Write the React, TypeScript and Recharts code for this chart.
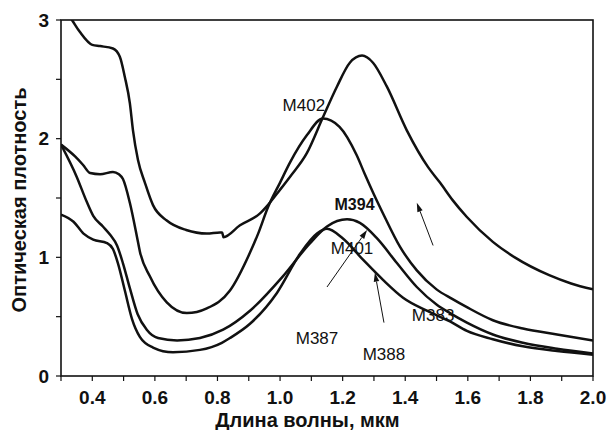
import { Line, LineChart, ReferenceDot, ReferenceLine, XAxis, YAxis } from "recharts";

// curve with the highest peak (~2.7 at 1.26 um)
const aWave = [0.3, 0.335, 0.36, 0.4, 0.425, 0.466, 0.488, 0.504, 0.52, 0.53, 0.546, 0.568, 0.594, 0.638, 0.7, 0.766, 0.808, 0.815, 0.819, 0.872, 0.936, 0.961, 1.0, 1.032, 1.086, 1.137, 1.182, 1.223, 1.262, 1.297, 1.341, 1.405, 1.473, 1.511, 1.552, 1.597, 1.68, 1.75, 1.86, 1.93, 2.0];
const aOD = [3.13, 3.0, 2.9, 2.79, 2.78, 2.76, 2.69, 2.52, 2.3, 2.07, 1.82, 1.63, 1.44, 1.31, 1.23, 1.2, 1.21, 1.21, 1.17, 1.27, 1.37, 1.44, 1.57, 1.68, 1.88, 2.18, 2.44, 2.64, 2.7, 2.64, 2.44, 2.07, 1.76, 1.63, 1.48, 1.34, 1.13, 1.0, 0.85, 0.78, 0.73];

// M402 (peak ~2.17 at 1.13 um)
const bWave = [0.3, 0.345, 0.37, 0.393, 0.425, 0.466, 0.485, 0.498, 0.52, 0.543, 0.552, 0.584, 0.638, 0.702, 0.766, 0.84, 0.904, 0.93, 0.961, 1.0, 1.032, 1.086, 1.137, 1.19, 1.245, 1.271, 1.3, 1.329, 1.383, 1.437, 1.5, 1.55, 1.597, 1.68, 1.776, 1.885, 2.0];
const bOD = [1.95, 1.85, 1.78, 1.71, 1.7, 1.72, 1.7, 1.66, 1.46, 1.17, 1.05, 0.84, 0.62, 0.53, 0.57, 0.72, 1.04, 1.2, 1.42, 1.63, 1.8, 2.03, 2.17, 2.1, 1.86, 1.7, 1.53, 1.37, 1.09, 0.89, 0.73, 0.65, 0.58, 0.47, 0.4, 0.35, 0.3];

// M394 (peak ~1.32 at 1.21 um)
const cWave = [0.3, 0.35, 0.382, 0.403, 0.434, 0.457, 0.479, 0.498, 0.52, 0.545, 0.574, 0.61, 0.671, 0.744, 0.818, 0.904, 1.009, 1.096, 1.15, 1.214, 1.255, 1.31, 1.374, 1.437, 1.501, 1.543, 1.597, 1.68, 1.776, 1.885, 2.0];
const cOD = [1.95, 1.68, 1.47, 1.35, 1.26, 1.19, 1.1, 0.95, 0.74, 0.52, 0.39, 0.32, 0.3, 0.32, 0.39, 0.55, 0.84, 1.12, 1.26, 1.32, 1.29, 1.16, 0.95, 0.75, 0.6, 0.53, 0.45, 0.35, 0.28, 0.23, 0.19];

// M387 (peak ~1.25 at 1.15 um)
const dWave = [0.3, 0.34, 0.372, 0.403, 0.447, 0.466, 0.482, 0.504, 0.527, 0.552, 0.594, 0.658, 0.744, 0.814, 0.84, 0.904, 0.99, 1.064, 1.118, 1.15, 1.2, 1.265, 1.329, 1.393, 1.469, 1.543, 1.597, 1.68, 1.776, 1.885, 2.0];
const dOD = [1.36, 1.3, 1.2, 1.15, 1.12, 1.07, 0.95, 0.72, 0.48, 0.33, 0.24, 0.2, 0.22, 0.28, 0.32, 0.44, 0.7, 1.03, 1.2, 1.24, 1.16, 0.98, 0.81, 0.66, 0.55, 0.46, 0.38, 0.31, 0.25, 0.21, 0.18];

const xMajorTicks = [0.4, 0.6, 0.8, 1.0, 1.2, 1.4, 1.6, 1.8, 2.0];
const xMinorTicks = [0.3, 0.5, 0.7, 0.9, 1.1, 1.3, 1.5, 1.7, 1.9];
const yMajorTicks = [0, 1, 2, 3];
const yMinorTicks = [0.5, 1.5, 2.5];

const curveLabels = ["M402", "M394", "M401", "M387", "M388", "M383"];
const xTitle = "Длина волны, мкм";
const yTitle = "Оптическая плотность";

const toPoints = (wave: number[], od: number[]) => wave.map((w, i) => ({ w, od: od[i] }));
const curves = [toPoints(aWave, aOD), toPoints(bWave, bOD), toPoints(cWave, cOD), toPoints(dWave, dOD)];

const xTicks = [...xMajorTicks, ...xMinorTicks].sort((p, q) => p - q);
const yTicks = [...yMajorTicks, ...yMinorTicks].sort((p, q) => p - q);

// label placement (data coordinates) and arrows
const labelSpots = [
  { x: 1.076, y: 2.28, bold: false },
  { x: 1.238, y: 1.45, bold: true },
  { x: 1.23, y: 1.08, bold: false },
  { x: 1.118, y: 0.32, bold: false },
  { x: 1.332, y: 0.185, bold: false },
  { x: 1.489, y: 0.514, bold: false },
];
const arrows = [
  [{ x: 1.15, y: 0.75 }, { x: 1.278, y: 1.23 }],
  [{ x: 1.332, y: 0.45 }, { x: 1.303, y: 0.87 }],
  [{ x: 1.489, y: 1.1 }, { x: 1.437, y: 1.46 }],
];

const FONT = "'Liberation Sans', Arial, sans-serif";
const INK = "#111111";

// plot box, shared by the chart margins and the frame overlay
const W = 608;
const H = 430;
const PLOT = { left: 61, top: 20, right: 593, bottom: 376 };
const X_DOMAIN = [0.3, 2.0];
const Y_DOMAIN = [0, 3];
const sx = (v: number) => PLOT.left + ((v - X_DOMAIN[0]) / (X_DOMAIN[1] - X_DOMAIN[0])) * (PLOT.right - PLOT.left);
const sy = (v: number) => PLOT.bottom - ((v - Y_DOMAIN[0]) / (Y_DOMAIN[1] - Y_DOMAIN[0])) * (PLOT.bottom - PLOT.top);

const isMajor = (v: number, list: number[]) => list.some((t) => Math.abs(t - v) < 1e-6);

function XTick(props: any) {
  const { x, y, payload } = props;
  const label = isMajor(payload.value, xMajorTicks) ? payload.value.toFixed(1) : "";
  return (
    <text x={x} y={y + 8} dy="0.71em" textAnchor="middle" fontFamily={FONT} fontWeight="bold" fontSize={19} fill={INK}>
      {label}
    </text>
  );
}

function YTick(props: any) {
  const { x, y, payload } = props;
  const label = isMajor(payload.value, yMajorTicks) ? String(payload.value) : "";
  return (
    <text x={x - 5} y={y} dy="0.355em" textAnchor="end" fontFamily={FONT} fontWeight="bold" fontSize={19} fill={INK}>
      {label}
    </text>
  );
}

function Arrow(props: any) {
  const { x1, y1, x2, y2 } = props;
  const a = Math.atan2(y2 - y1, x2 - x1);
  const len = 9;
  const w = 2.8;
  const bx = x2 - len * Math.cos(a);
  const by = y2 - len * Math.sin(a);
  const pts = `${x2},${y2} ${bx - w * Math.sin(a)},${by + w * Math.cos(a)} ${bx + w * Math.sin(a)},${by - w * Math.cos(a)}`;
  return (
    <g>
      <line x1={x1} y1={y1} x2={bx} y2={by} stroke={INK} strokeWidth={1} />
      <polygon points={pts} fill={INK} />
    </g>
  );
}

const textShape = (label: string, bold: boolean) => (props: any) => (
  <text x={props.cx} y={props.cy} dy="0.355em" textAnchor="middle" fontFamily={FONT} fontSize={bold ? 16 : 17} fontWeight={bold ? "bold" : "normal"} fill={INK}>
    {label}
  </text>
);

export default function App() {
  return (
    <div style={{ position: "absolute", left: 0, top: 0, width: W, height: H, background: "#fff" }}>
      <LineChart width={W} height={H} margin={{ top: PLOT.top, right: W - PLOT.right, bottom: 0, left: 0 }}>
        <XAxis
          dataKey="w"
          type="number"
          domain={X_DOMAIN}
          ticks={xTicks}
          tick={<XTick />}
          tickSize={5}
          height={H - PLOT.bottom}
          axisLine={false}
          tickLine={false}
          allowDataOverflow
        />
        <YAxis
          type="number"
          domain={Y_DOMAIN}
          ticks={yTicks}
          tick={<YTick />}
          tickSize={5}
          width={PLOT.left}
          axisLine={false}
          tickLine={false}
          allowDataOverflow
        />
        {curves.map((pts, i) => (
          <Line
            key={i}
            data={pts}
            dataKey="od"
            type="monotone"
            stroke={INK}
            strokeWidth={2.5}
            dot={false}
            activeDot={false}
            isAnimationActive={false}
          />
        ))}
        {arrows.map((seg, i) => (
          <ReferenceLine key={`a${i}`} segment={seg} shape={Arrow} />
        ))}
        {curveLabels.map((lab, i) => (
          <ReferenceDot key={lab} x={labelSpots[i].x} y={labelSpots[i].y} r={0} shape={textShape(lab, labelSpots[i].bold)} />
        ))}
      </LineChart>
      <svg width={W} height={H} style={{ position: "absolute", left: 0, top: 0, pointerEvents: "none" }}>
        <rect
          x={PLOT.left}
          y={PLOT.top}
          width={PLOT.right - PLOT.left}
          height={PLOT.bottom - PLOT.top}
          fill="none"
          stroke={INK}
          strokeWidth={1.6}
        />
        {xTicks.map((t) => (
          <line key={`xt${t}`} x1={sx(t)} y1={PLOT.bottom} x2={sx(t)} y2={PLOT.bottom + 5} stroke={INK} strokeWidth={1.2} />
        ))}
        {yTicks.map((t) => (
          <line key={`yt${t}`} x1={PLOT.left - 5} y1={sy(t)} x2={PLOT.left} y2={sy(t)} stroke={INK} strokeWidth={1.2} />
        ))}
        <text x={307.5} y={427} textAnchor="middle" fontFamily={FONT} fontWeight="bold" fontSize={20} fill={INK}>
          {xTitle}
        </text>
        <text transform="translate(26,200) rotate(-90)" textAnchor="middle" fontFamily={FONT} fontWeight="bold" fontSize={20} fill={INK}>
          {yTitle}
        </text>
      </svg>
    </div>
  );
}
